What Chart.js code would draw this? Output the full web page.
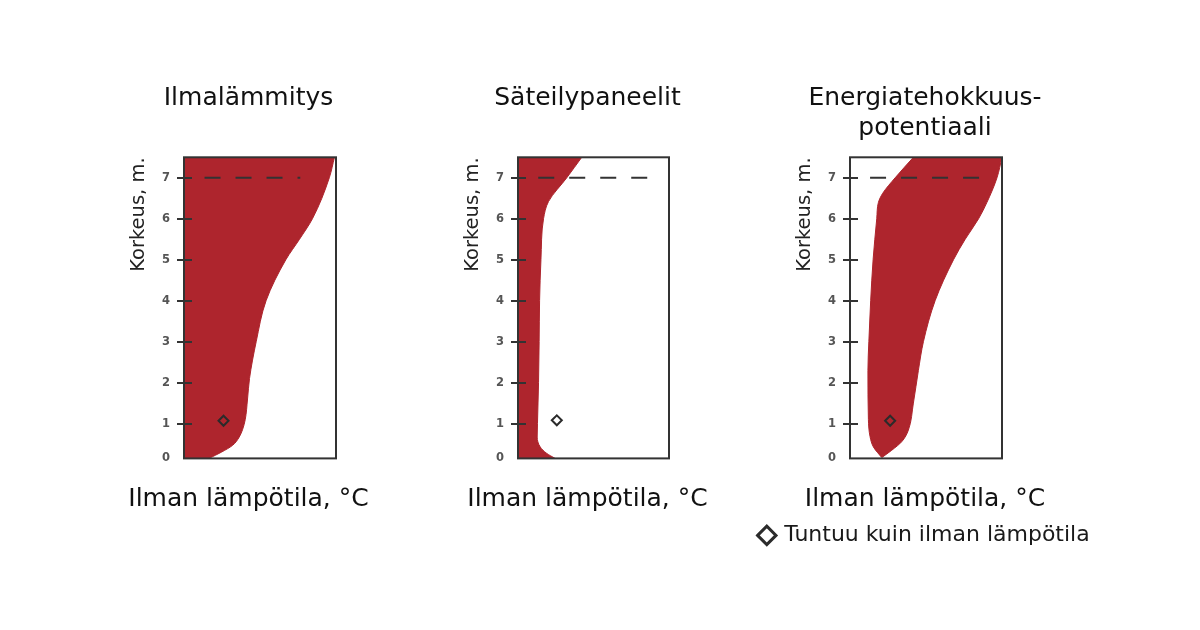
<!DOCTYPE html>
<html>
<head>
<meta charset="utf-8">
<script src="https://cdn.jsdelivr.net/npm/chart.js@4.4.0/dist/chart.umd.min.js"></script>
<style>
  html, body { margin: 0; padding: 0; background: #fff; }
  body { width: 1200px; height: 630px; position: relative; overflow: hidden; }
  .box { position: absolute; top: 60px; height: 500px; }
</style>
</head>
<body>
<div class="box" id="b1" style="left:88px;width:321px"><canvas id="c1"></canvas></div>
<div class="box" id="b2" style="left:422px;width:331px"><canvas id="c2"></canvas></div>
<div class="box" id="b3" style="left:745px;width:360px"><canvas id="c3"></canvas></div>
<script>
const titles = [['Ilmalämmitys'], ['Säteilypaneelit'], ['Energiatehokkuus-', 'potentiaali']];
const xTitle = 'Ilman lämpötila, °C';
const yTitle = 'Korkeus, m.';
const feltLabel = 'Tuntuu kuin ilman lämpötila';
const heightTicks = [0, 1, 2, 3, 4, 5, 6, 7];
const ceilingHeight = 7;

// Ilmalämmitys: warm air from the wall (x = 0) out to this edge
const airHeights = [0.15, 0.3, 0.47, 0.65, 0.85, 1.1, 1.6, 2.1, 3, 4, 5, 5.5, 6, 7, 7.5];
const airTemps = [16.5, 24.5, 32, 36, 38.5, 40.3, 41.8, 43.1, 47.5, 54, 67, 76, 84.5, 95.6, 99];

// Säteilypaneelit
const panelHeights = [0.15, 0.27, 0.43, 0.67, 1, 2, 3, 4, 5, 6, 6.42, 7, 7.5];
const panelTemps = [24.6, 19.1, 14.7, 12.7, 12.9, 13.6, 14.0, 14.3, 15.2, 16.9, 20.2, 32.3, 42.2];

// Energiatehokkuuspotentiaali: band between two edges
const potLowHeights = [0.17, 0.43, 0.68, 1.1, 2.3, 3, 4, 5, 6, 6.4, 6.62, 7, 7.5];
const potLowTemps = [20.9, 15.4, 13.2, 12.1, 11.8, 12.4, 13.6, 15.2, 17.6, 18.7, 21.5, 29.7, 41.7];
const potHighHeights = [0.17, 0.35, 0.56, 0.84, 1.5, 2.3, 3, 4, 5, 5.5, 6, 6.4, 7, 7.5];
const potHighTemps = [20.9, 27.5, 34.1, 38.4, 41.7, 45, 48.3, 56, 68.1, 75.8, 84.6, 90.1, 96.7, 100];

// "feels like" markers and the dashed 7 m line, one per chart
const feltHeights = [1.07, 1.08, 1.07];
const feltTemps = [26, 25.7, 26.4];
const dashFrom = [13.5, 13.4, 13.2];
const dashTo = [76.5, 88.6, 94];

const RED = '#ae252d';
const INK = '#2b2b2b';
const FONT = 'DejaVu Sans';

const pts = (xs, ys) => xs.map((x, i) => ({ x: x, y: ys[i] }));

const framePlugin = {
  id: 'frame',
  afterDatasetsDraw(chart) {
    const { ctx, chartArea: a } = chart;
    const y = chart.scales.y;
    ctx.save();
    ctx.strokeStyle = '#333';
    ctx.lineWidth = 2;
    ctx.strokeRect(a.left, a.top, a.right - a.left, a.bottom - a.top);
    ctx.beginPath();
    y.ticks.forEach(t => {
      if (t.value <= y.min) return;
      const py = Math.round(y.getPixelForValue(t.value));
      ctx.moveTo(a.left - 7, py);
      ctx.lineTo(a.left + 8, py);
    });
    ctx.stroke();
    ctx.restore();
  }
};

function markerSet(i) {
  return {
    label: feltLabel,
    data: [{ x: feltTemps[i], y: feltHeights[i] }],
    showLine: false,
    pointStyle: 'rectRot',
    pointRadius: 5,
    pointBorderWidth: 2,
    pointBorderColor: INK,
    pointBackgroundColor: 'rgba(0,0,0,0)'
  };
}

function dashSet(i) {
  return {
    label: 'katto',
    data: [{ x: dashFrom[i], y: ceilingHeight }, { x: dashTo[i], y: ceilingHeight }],
    borderColor: '#333',
    borderWidth: 2,
    borderDash: [16, 15],
    pointRadius: 0,
    tension: 0,
    fill: false
  };
}

function areaSet(xs, ys, fill) {
  return {
    label: 'alue',
    data: pts(xs, ys),
    borderColor: RED,
    borderWidth: 1,
    backgroundColor: RED,
    pointRadius: 0,
    cubicInterpolationMode: 'monotone',
    fill: fill
  };
}

function makeChart(id, i, datasets, g) {
  new Chart(document.getElementById(id), {
    type: 'line',
    data: { datasets: datasets },
    options: {
      indexAxis: 'y',
      responsive: true,
      maintainAspectRatio: false,
      animation: false,
      layout: { padding: { left: g.pad, right: g.pad, top: 0, bottom: g.bottom } },
      scales: {
        x: { type: 'linear', min: 0, max: 100, display: false },
        y: {
          type: 'linear', axis: 'y', position: 'left', min: 0.15, max: 7.5,
          afterBuildTicks: s => { s.ticks = heightTicks.map(v => ({ value: Math.max(v, s.min) })); },
          afterFit: s => { s.width = g.left; },
          grid: { display: false, drawTicks: false },
          border: { display: false },
          ticks: {
            padding: 14,
            color: '#555',
            font: { family: FONT, size: 11.5, weight: 'bold' },
            callback: (v, idx) => String(heightTicks[idx])
          },
          title: {
            display: true, text: yTitle, align: 'end', color: '#222',
            font: { family: FONT, size: 19.5, lineHeight: 1.1 },
            padding: { top: g.left - 56, bottom: 0 }
          }
        },
        yR: {
          type: 'linear', axis: 'y', position: 'right', display: true,
          grid: { display: false }, border: { display: false }, ticks: { display: false },
          afterFit: s => { s.width = g.right; }
        }
      },
      plugins: {
        title: {
          display: true, text: titles[i], color: '#111',
          font: { family: FONT, size: 25, weight: 'normal', lineHeight: 1.2 },
          padding: { top: 23.5, bottom: g.titleGap }
        },
        subtitle: {
          display: true, position: 'bottom', text: xTitle, color: '#111',
          font: { family: FONT, size: 25, weight: 'normal', lineHeight: 1.2 },
          padding: { top: 26, bottom: 0 }
        },
        legend: {
          display: g.legend, position: 'bottom', weight: 2000,
          labels: {
            color: '#1a1a1a',
            font: { family: FONT, size: 22 },
            usePointStyle: true, boxWidth: 13, boxHeight: 13, padding: 10,
            filter: item => item.datasetIndex === 0,
            generateLabels: chart => Chart.defaults.plugins.legend.labels.generateLabels(chart)
              .map(l => Object.assign(l, { lineWidth: 3, fillStyle: 'rgba(0,0,0,0)' }))
          }
        },
        tooltip: { enabled: false }
      }
    },
    plugins: [framePlugin]
  });
}

makeChart('c1', 0, [markerSet(0), dashSet(0), areaSet(airTemps, airHeights, { value: 0 })],
  { pad: 40, left: 56, right: 33, bottom: 45.6, titleGap: 43.8, legend: false });
makeChart('c2', 1, [markerSet(1), dashSet(1), areaSet(panelTemps, panelHeights, { value: 0 })],
  { pad: 40, left: 56, right: 44, bottom: 45.6, titleGap: 43.8, legend: false });
makeChart('c3', 2, [markerSet(2), dashSet(2), areaSet(potLowTemps, potLowHeights, false),
  areaSet(potHighTemps, potHighHeights, '-1')],
  { pad: 0, left: 105, right: 103, bottom: 3.6, titleGap: 13.8, legend: true });
</script>
</body>
</html>
